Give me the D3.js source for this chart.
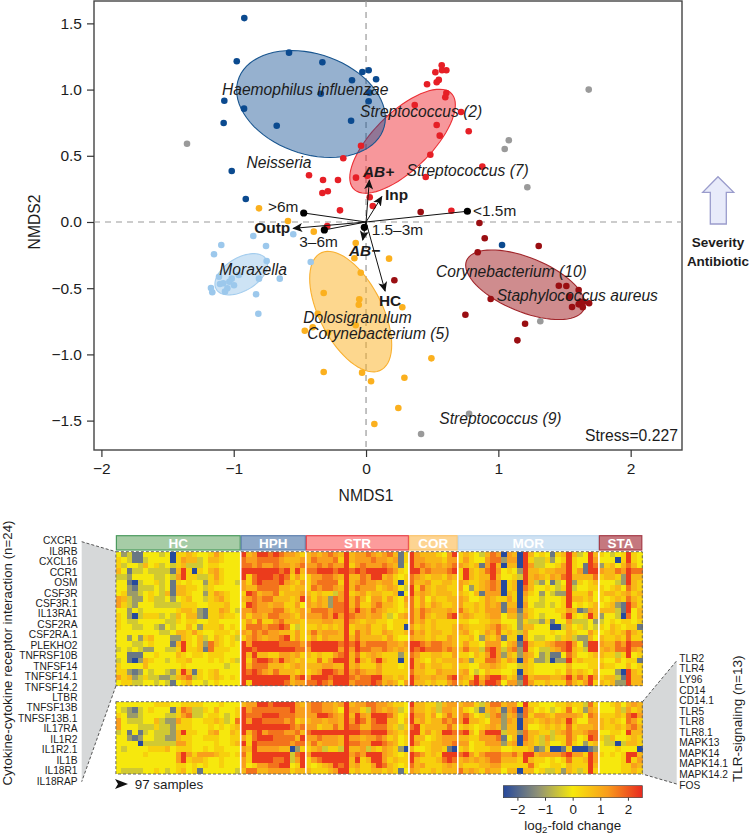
<!DOCTYPE html>
<html>
<head>
<meta charset="utf-8">
<script src="https://d3js.org/d3.v7.min.js"></script>
<style>
html,body{margin:0;padding:0;background:#fff;}
svg{display:block;}
text{font-family:"Liberation Sans",Arial,sans-serif;fill:#1c1c1c;}
</style>
</head>
<body>
<svg id="c" width="750" height="833"></svg>
<script>
// ---------- NMDS points [NMDS1, NMDS2] ----------
const hphPts=[[-.92,1.54],[-.582,1.279],[-.977,1.214],[-.33,1.206],[-.028,1.133],[.02,1.146],[.076,1.078],[-.106,1.07],[.025,.977],[-.342,.969],[-1.071,.916],[.02,.912],[-.922,.856],[-.113,.765],[-1.076,.748],[-.675,.727],[-1.015,.385],[-.909,.174],[1.028,-.174]];
const strPts=[[.572,1.184],[.607,1.146],[.574,1.146],[.524,1.131],[.55,1.073],[.534,1.055],[.461,1.04],[.607,.974],[.599,.942],[.368,.884],[.718,.831],[.534,.733],[.776,.685],[.557,.652],[.486,.508],[.879,.418],[.451,.34],[.645,.085],[.028,.187],[.051,.121],[.01,.35],[-.038,.576],[-.172,.481],[-.431,.353],[-.325,.317],[-.212,.317],[-.076,.335],[-.33,.219],[-.289,.232],[-.197,.088],[-.293,-.03]];
const corPts=[[-.809,.103],[-.59,.008],[-.395,-.073],[-.078,-.159],[-.088,-.274],[-.04,-.383],[.174,-.277],[-.32,-.536],[-.051,-.584],[-.055,-.625],[-.365,-.693],[-.078,-.78],[-.403,-.795],[-.463,-.821],[-.287,-.836],[-.32,-1.133],[-.03,-1.138],[.038,-1.203],[.063,-1.526],[.274,-.644],[.494,-1.03],[.29,-1.176],[.244,-1.405]];
const morPts=[[-.852,-.106],[-.55,-.093],[-1.094,-.174],[-.756,-.181],[-1.149,-.244],[-.751,-.295],[-.418,-.302],[-.962,-.4],[-1.111,-.413],[-.809,-.428],[-.652,-.428],[-1.015,-.428],[-1.033,-.451],[-1.104,-.468],[-1.079,-.463],[-.998,-.478],[-1.172,-.498],[-1.048,-.501],[-1.066,-.526],[-1.162,-.531],[-.831,-.546],[-.814,-.693]];
const staPts=[[.413,.076],[.857,-.008],[.897,-.123],[1.305,-.181],[.844,-.229],[.214,-.44],[1.457,-.481],[1.514,-.483],[1.607,-.514],[.942,-.582],[1.537,-.564],[1.618,-.602],[1.643,-.602],[1.686,-.614],[1.607,-.622],[1.557,-.642],[1.638,-.644],[.751,-.7],[1.202,-.768],[1.144,-.894]];
const grayPts=[[-1.353,.591],[1.683,1.0],[1.079,.617],[1.048,.551],[1.219,.262],[1.317,-.75],[.779,-1.448],[.416,-1.601]];

// Ellipses: [centre x, centre y, half width, half height, correlation]
const ellHPH=[-.416,.891,.562,.404,-.26];
const ellSTR=[.276,.61,.399,.393,.70];
const ellCOR=[-.116,-.677,.31,.455,-.55];
const ellMOR=[-.943,-.395,.199,.156,.47];
const ellSTA=[1.204,-.474,.451,.263,-.56];

// Fitted vectors: end points
const arrowNames=["Outp","AB+","Inp","HC","AB−"];
const arrowEnds=[[-.55,-.048],[.025,.315],[.119,.191],[.144,-.521],[-.025,-.136]];
const ageNames=[">6m","3–6m","1.5–3m","<1.5m"];
const ageEnds=[[-.471,.068],[-.315,-.06],[-.013,-.04],[.766,.081]];

const xTicks=[-2,-1,0,1,2];
const yTicks=[-1.5,-1,-.5,0,.5,1,1.5];

// ---------- Heat map ----------
const groupNames=["HC","HPH","STR","COR","MOR","STA"];
const groupCols=[23,12,19,9,26,8];
const cytokineLabels=["CXCR1","IL8RB","CXCL16","CCR1","OSM","CSF3R","CSF3R.1","IL13RA1","CSF2RA","CSF2RA.1","PLEKHO2","TNFRSF10B","TNFSF14","TNFSF14.1","TNFSF14.2","LTBR","TNFSF13B","TNFSF13B.1","IL17RA","IL1R2","IL1R2.1","IL1B","IL18R1","IL18RAP"];
const tlrLabels=["TLR2","TLR4","LY96","CD14","CD14.1","TLR5","TLR8","TLR8.1","MAPK13","MAPK14","MAPK14.1","MAPK14.2","FOS"];
// read levels, one char a cell: 0 blue ... 4 yellow ... 9 red; groups split by spaces
const levelValues=[-2.5,-1.7,-1.1,-.45,0,.4,.8,1.2,1.7,2.3];
const cytokineRows=[
"42311444340556544575444 967998987765 6767876967787678615 976665479 56543687076096454156963496 54345954",
"54311344440576634665444 877888876667 6877785967778776715 977666577 57544788277095335245954497 44405954",
"53443645343563334554444 887877877678 7787877957877787614 978767678 76561796066097334457954198 25646864",
"64133433331695054675444 999999989696 8899989989899998754 997877789 59656897454296656677957199 76687988",
"33244443343795533575444 958999898575 5778876966879967545 876566576 59656696445396765768966668 56652966",
"44103445341545442565443 758988897657 5788885967877677505 866755665 76556787056096324134925456 44432965",
"44213334341665543544444 766888866566 5878876968777567643 958656655 74256787056086445435934455 54564865",
"45223454361665442576544 598677856667 6565537956756655604 967656665 65461777065075424322955574 56656756",
"76322453342456443567544 678788666569 7576287968647757547 857465566 76445765575064434445966564 54565865",
"75324443333355544555644 598776775574 7676288968557866546 857576556 75565767166074334345945456 45621975",
"44243444444566521557643 778777886567 6888788979768765545 868766676 86565777177165444455761276 66631946",
"54203555343646621556554 757768877657 7778797987767753467 868656689 67655677466275434446954596 24430846",
"54334444433545544554444 575855786665 6667766976566554555 867565555 55445566444253325144733342 34545545",
"54433443243446425556454 588878898435 5565656956675564550 756565556 76555678654266444003645343 54654551",
"44444444334665754455545 768787766575 6867776958675576556 867566556 67545768565374444544654475 45656865",
"44242564442265463465453 578767789575 5757666968666657544 766565576 55642657155074334435632264 65565855",
"44433454441695462865454 979999988887 8999998989788887767 998788776 57554777467196556788974299 76687988",
"34343224433595561855544 998999999988 7999997979887787676 989888787 68663897378295433678965399 67688976",
"44111445444654554555444 969665577675 6565578968567655525 875566557 55465797265276423114864456 65535945",
"34102654434556444545453 958998797656 5585799969657965505 965465666 76255887576075223022956555 54464551",
"54444644444454444444344 968886665676 6667766967555755545 967566556 55446676544365444444644455 65544645",
"55212434432596154564444 989876866656 5679987978766755555 866557666 67434655445065444454756546 44420965",
"75623533223678354565454 999999999689 7999899987889966565 976676689 76596899756196777667968697 56631966",
"45533443431456443454444 959999998677 8898799978889867647 966565578 65897998477297556555865795 65622966"
];
const tlrRows=[
"44444445554455554445444 677998999976 7887767967788776554 966553677 67753688677495544455655385 44564676",
"43213454441587335464445 978888888977 7887764977538767634 866563776 75431676178086454345845276 44463756",
"54223444433578334554345 988899988877 7799876969769998645 977574686 78645378267185776577776487 55565897",
"74333446322755445565348 979988887856 6776776979868996646 967566878 79665477276076567676964477 65654875",
"74443335332555444545456 999999999878 7756686988668886535 895666686 56545676266074456565856667 65565786",
"34141343332695544674465 968978887786 8999999999889997656 995756998 89647999366286655367866788 44554966",
"44212443322655445554455 758999888869 7787776977677875645 966456777 66557778146086537355864598 53644565",
"44440333333775444454456 959888888788 6867776988779987645 975566778 77455777267076536445854256 43303665",
"43444455564555445455444 769777766025 5673553966736576520 644566510 56455566445556125001500012 44454440",
"44444544444797577765545 859999999389 7999999978799976545 987565999 89757888778699677778977597 54545996",
"44444444444795665445444 759999889379 5789999969569975655 965556898 67676788666596554545855697 44445957",
"44444444444554545445444 745778899459 5456798967557986545 867555676 65556677555558544554655596 44445576",
"43333445434564514444443 688667777566 6555679956556656514 765565666 86765766466066453352653595 44445565"
];

const colorTicks=[-2,-1,0,1,2];

// ---------- scales ----------
const svg=d3.select("#c");
const box={l:94,r:682,t:1,b:450};
const x=d3.scaleLinear().domain([-2.056,2.388]).range([box.l,box.r]);
const y=d3.scaleLinear().domain([-1.722,1.669]).range([box.b,box.t]);

// arrow head
const defs=svg.append("defs");
defs.append("marker").attr("id","ah").attr("viewBox","0 0 10 10").attr("refX",9).attr("refY",5)
  .attr("markerWidth",10).attr("markerHeight",10).attr("markerUnits","userSpaceOnUse").attr("orient","auto")
  .append("path").attr("d","M0,0.5 L10,5 L0,9.5 L2.5,5 Z").attr("fill","#111");
defs.append("filter").attr("id","soft").attr("x","-1%").attr("y","-1%").attr("width","102%").attr("height","102%")
  .append("feGaussianBlur").attr("stdDeviation",.45);

// frame
svg.append("rect").attr("x",box.l).attr("y",box.t).attr("width",box.r-box.l).attr("height",box.b-box.t)
  .attr("fill","#fff").attr("stroke","#444").attr("stroke-width",1.4);

// zero lines
const dash="6,5";
svg.append("line").attr("x1",box.l).attr("x2",box.r).attr("y1",y(0)).attr("y2",y(0)).attr("stroke","#999").attr("stroke-width",1.2).attr("stroke-dasharray",dash);
svg.append("line").attr("x1",x(0)).attr("x2",x(0)).attr("y1",box.t).attr("y2",box.b).attr("stroke","#999").attr("stroke-width",1.2).attr("stroke-dasharray",dash);

// axes
const gx=svg.append("g").attr("transform",`translate(0,${box.b})`).call(d3.axisBottom(x).tickValues(xTicks).tickSize(7).tickPadding(6).tickFormat(d3.format("d")));
const gy=svg.append("g").attr("transform",`translate(${box.l},0)`).call(d3.axisLeft(y).tickValues(yTicks).tickSize(7).tickPadding(5).tickFormat(d3.format(".1f")));
[gx,gy].forEach(g=>{g.select(".domain").remove();g.selectAll("line").attr("stroke","#333").attr("stroke-width",1.2);
 g.selectAll("text").attr("font-size",15.5).attr("font-family","Liberation Sans").attr("fill","#1c1c1c");});
gx.selectAll("text").text(d=>d<0?"−"+(-d):d);
svg.append("text").attr("x",x(0)).attr("y",500.5).attr("text-anchor","middle").attr("font-size",15.7).text("NMDS1");
svg.append("text").attr("transform",`translate(40,${y(0)}) rotate(-90)`).attr("text-anchor","middle").attr("font-size",15.7).text("NMDS2");

// ellipses
function ellipsePath(e){
  const [cx,cy,sx,sy,r]=e,pts=d3.range(0,73).map(i=>{const t=i/72*2*Math.PI;
    return [x(cx+sx*Math.cos(t)),y(cy+sy*(r*Math.cos(t)+Math.sqrt(1-r*r)*Math.sin(t)))];});
  return d3.line()(pts)+"Z";
}
const ells=[[ellCOR,"#fbb01e",.5,"#f9b030"],[ellMOR,"#9cc8ec",.5,"#a4cdee"],[ellSTA,"#9a0e12",.48,"#a0252a"],[ellSTR,"#ee1c25",.46,"#ec2f35"],[ellHPH,"#0b4a8f",.43,"#18558f"]];
svg.append("g").selectAll("path").data(ells).join("path").attr("d",d=>ellipsePath(d[0])).attr("fill",d=>d[1]).attr("fill-opacity",d=>d[2]).attr("stroke",d=>d[3]).attr("stroke-width",1.1);

// points
const ptSets=[[grayPts,"#9a9a9a"],[morPts,"#9cc8ec"],[corPts,"#fbb01e"],[strPts,"#e61f26"],[hphPts,"#0b4a8f"],[staPts,"#9a0e12"]];
ptSets.forEach(s=>svg.append("g").selectAll("circle").data(s[0]).join("circle")
 .attr("cx",d=>x(d[0])).attr("cy",d=>y(d[1])).attr("r",3.3).attr("fill",s[1]));

// vectors
svg.append("g").selectAll("line.age").data(ageEnds).join("line").attr("x1",x(0)).attr("y1",y(0)).attr("x2",d=>x(d[0])).attr("y2",d=>y(d[1])).attr("stroke","#111").attr("stroke-width",1);
svg.append("g").selectAll("line.arr").data(arrowEnds).join("line").attr("x1",x(0)).attr("y1",y(0)).attr("x2",d=>x(d[0])).attr("y2",d=>y(d[1])).attr("stroke","#111").attr("stroke-width",1).attr("marker-end","url(#ah)");
svg.append("g").selectAll("circle").data(ageEnds).join("circle").attr("cx",d=>x(d[0])).attr("cy",d=>y(d[1])).attr("r",3.6).attr("fill","#000");

// taxon labels
const taxa=[["Haemophilus influenzae",222,95],["Streptococcus (2)",360,117],["Neisseria",246.5,168.3],["Streptococcus (7)",406.5,175.7],["Moraxella",219.3,275],["Corynebacterium (10)",436,276.7],["Staphylococcus aureus",496.7,301],["Dolosigranulum",303.3,322.7],["Corynebacterium (5)",307.3,339.3],["Streptococcus (9)",439.3,424]];
svg.append("g").selectAll("text").data(taxa).join("text").attr("x",d=>d[1]).attr("y",d=>d[2]).attr("font-style","italic").attr("font-size",15.6).text(d=>d[0]);

// vector labels
const vecLabels=[[arrowNames[0],254.3,232.7,"bold","normal"],[arrowNames[1],363,176.7,"bold","italic"],[arrowNames[2],385,200,"bold","normal"],[arrowNames[3],379,306,"bold","normal"],[arrowNames[4],349,255.7,"bold","italic"],
 [ageNames[0],268,211.7,"normal","normal"],[ageNames[1],299.3,246.7,"normal","normal"],[ageNames[2],371.7,234.5,"normal","normal"],[ageNames[3],473,215.7,"normal","normal"]];
svg.append("g").selectAll("text").data(vecLabels).join("text").attr("x",d=>d[1]).attr("y",d=>d[2]).attr("font-weight",d=>d[3]).attr("font-style",d=>d[4]).attr("font-size",15.4).attr("fill","#111").text(d=>d[0]);
svg.append("text").attr("x",585).attr("y",441).attr("font-size",15.7).text("Stress=0.227");

// severity arrow
const arrowShape=[[710.3,224],[710.3,192.3],[702.7,192.3],[718,176.7],[733.7,192.3],[726.3,192.3],[726.3,224]];
svg.append("path").attr("d",d3.line()(arrowShape)+"Z").attr("fill","#e8ebfa").attr("stroke","#9a9ccc").attr("stroke-width",1.3);
svg.append("text").attr("x",718).attr("y",247).attr("text-anchor","middle").attr("font-weight","bold").attr("font-size",13.5).attr("fill","#111").text("Severity");
svg.append("text").attr("x",718).attr("y",266).attr("text-anchor","middle").attr("font-weight","bold").attr("font-size",13.5).attr("fill","#111").text("Antibiotic");

// ---------- heat map ----------
const hmL=115.9,hmR=642.3,nCols=d3.sum(groupCols);
const cx=d3.scaleLinear().domain([0,nCols]).range([hmL,hmR]);
const color=d3.scaleLinear().domain([-2.5,-1.25,0,1.25,2.5]).range(["#26489c","#8f9176","#f6e80c","#f99c1c","#e8291f"]);
const groupFill=["#a6cca6","#8fa9c9","#fc9b9b","#fdd492","#cfe2f3","#c5787f"];
const groupStroke=["#4b9a5e","#5f80ae","#e8454c","#fbc46d","#bdd7ee","#a53c48"];
const starts=groupCols.map((c,i)=>d3.sum(groupCols.slice(0,i)));

function drawBlock(rows,top,bottom){
  const ry=d3.scaleLinear().domain([0,rows.length]).range([top,bottom]);
  const g=svg.append("g").attr("filter","url(#soft)");
  rows.forEach((row,r)=>{
    const cells=row.replace(/ /g,"").split("").map(c=>levelValues[+c]);
    g.append("g").attr("shape-rendering","crispEdges").selectAll("rect").data(cells).join("rect")
     .attr("x",(d,i)=>cx(i)).attr("y",ry(r)).attr("width",cx(1)-cx(0)+.4).attr("height",ry(1)-ry(0)+.4).attr("fill",d=>color(d));
  });
  // white separators
  svg.append("g").selectAll("line").data(starts.slice(1)).join("line").attr("x1",d=>cx(d)).attr("x2",d=>cx(d)).attr("y1",top).attr("y2",bottom).attr("stroke","#fff").attr("stroke-width",1.6);
  svg.append("rect").attr("x",hmL).attr("y",top).attr("width",hmR-hmL).attr("height",bottom-top).attr("fill","none").attr("stroke","#666").attr("stroke-width",1).attr("stroke-dasharray","3,2");
}
// connector wedges
const wedgeL=[[81.7,541.7],[115.9,551.7],[115.9,686],[81.7,781.7]];
const wedgeR=[[642.3,702],[676.7,660.7],[676.7,784],[642.3,774]];
[wedgeL,wedgeR].forEach(w=>{
 svg.append("path").attr("d",d3.line()(w)+"Z").attr("fill","#d6d8d9");
 svg.append("line").attr("x1",w[0][0]).attr("y1",w[0][1]).attr("x2",w[1][0]).attr("y2",w[1][1]).attr("stroke","#555").attr("stroke-dasharray","3,2");
 svg.append("line").attr("x1",w[2][0]).attr("y1",w[2][1]).attr("x2",w[3][0]).attr("y2",w[3][1]).attr("stroke","#555").attr("stroke-dasharray","3,2");
});
drawBlock(cytokineRows,551.7,685.7);
drawBlock(tlrRows,701.7,774);

// group header bands
const band=svg.append("g");
groupNames.forEach((n,i)=>{
  band.append("rect").attr("x",cx(starts[i])+.5).attr("y",535.7).attr("width",cx(groupCols[i])-cx(0)-1).attr("height",14.3).attr("fill",groupFill[i]).attr("stroke",groupStroke[i]).attr("stroke-width",1.2);
  band.append("text").attr("x",cx(starts[i]+groupCols[i]/2)).attr("y",548).attr("text-anchor","middle").attr("font-weight","bold").attr("font-size",13.5).style("fill","#fff").text(n);
});

// row labels
const ly=d3.scalePoint().domain(cytokineLabels).range([540.7,781]);
svg.append("g").selectAll("text").data(cytokineLabels).join("text").attr("x",77.5).attr("y",d=>ly(d)).attr("dy",".35em").attr("text-anchor","end").attr("font-size",10.2).text(d=>d);
const ry2=d3.scalePoint().domain(tlrLabels).range([658.3,785]);
svg.append("g").selectAll("text").data(tlrLabels).join("text").attr("x",679.3).attr("y",d=>ry2(d)).attr("dy",".35em").attr("font-size",10.2).text(d=>d);
svg.append("text").attr("transform","translate(12,653) rotate(-90)").attr("text-anchor","middle").attr("font-size",13.3).text("Cytokine-cytokine receptor interaction (n=24)");
svg.append("text").attr("transform","translate(742,718.7) rotate(-90)").attr("text-anchor","middle").attr("font-size",13.5).text("TLR-signaling (n=13)");

// 97 samples
svg.append("path").attr("d",d3.line()([[115,779],[128,784],[115,789],[118,784]])+"Z").attr("fill","#111");
svg.append("text").attr("x",134.7).attr("y",788.5).attr("font-size",13.4).text("97 samples");

// colour bar
const barL=503.3,barR=642.3,barT=785.7,barB=797.7;
const cb=d3.scaleLinear().domain([-2.51,2.52]).range([barL,barR]);
const grad=defs.append("linearGradient").attr("id","cbg");
[-2.5,-1.25,0,1.25,2.5].forEach(v=>grad.append("stop").attr("offset",(v+2.5)/5).attr("stop-color",color(v)));
svg.append("rect").attr("x",barL).attr("y",barT).attr("width",barR-barL).attr("height",barB-barT).attr("fill","url(#cbg)").attr("stroke","#333").attr("stroke-width",.6);
const gc=svg.append("g").attr("transform",`translate(0,${barB})`).call(d3.axisBottom(cb).tickValues(colorTicks).tickSize(3).tickPadding(4));
gc.select(".domain").remove();
gc.selectAll("line").attr("stroke","#333");
gc.selectAll("text").attr("font-size",13.4).attr("font-family","Liberation Sans").attr("fill","#1c1c1c").text(d=>d<0?"−"+(-d):d);
const lf=svg.append("text").attr("x",cb(0)).attr("y",829.5).attr("text-anchor","middle").attr("font-size",13.4);
lf.append("tspan").text("log");
lf.append("tspan").attr("dy",3).attr("font-size",9.5).text("2");
lf.append("tspan").attr("dy",-3).text("-fold change");
</script>
</body>
</html>
